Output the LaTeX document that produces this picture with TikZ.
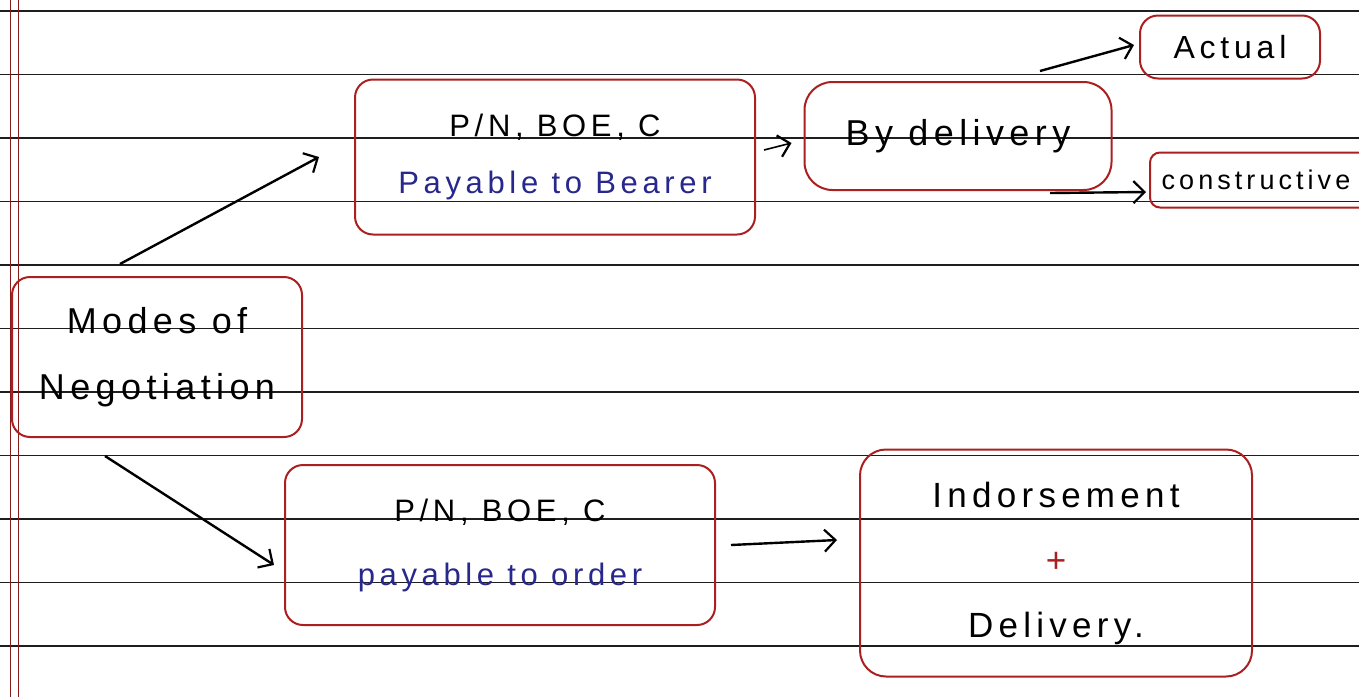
\documentclass[tikz,border=0pt]{standalone}
\usepackage{fontspec}
\setmainfont{Liberation Sans}[LetterSpace=15]
\usetikzlibrary{arrows.meta}
\definecolor{boxred}{RGB}{170,32,32}
\definecolor{inkblue}{RGB}{40,40,140}
\definecolor{ruled}{RGB}{30,30,30}
\tikzset{
  box/.style={draw=boxred, line width=2pt, rounded corners=18pt, align=center, inner sep=0pt},
  arr/.style={draw=black, line width=2.4pt, -{Straight Barb[length=11pt,width=22pt,line width=2.2pt]}},
  ruleline/.style={draw=ruled, line width=1.4pt},
  marginline/.style={draw=boxred!80!black, line width=0.8pt}
}
\begin{document}
\begin{tikzpicture}[x=1pt,y=-1pt]
\useasboundingbox (0,0) rectangle (1359,697);
\fill[white] (0,0) rectangle (1359,697);
% ruled paper
\foreach \k in {0,...,10} {
  \draw[ruleline] (0,{11+63.5*\k}) -- (1359,{11+63.5*\k});
}
\draw[marginline] (10,0) -- (10,697);
\draw[marginline] (18,0) -- (18,697);

% boxes
\node[box, minimum width=290pt, minimum height=160pt, font=\fontsize{36}{66}\selectfont] (modes) at (157,357) {Modes of\\Negotiation};
\node[box, minimum width=400pt, minimum height=155pt, font=\fontsize{31}{57}\selectfont] (toppn) at (555,157) {P/N, BOE, C\\\textcolor{inkblue}{Payable to Bearer}};
\node[box, minimum width=307pt, minimum height=108pt, rounded corners=28pt, font=\fontsize{36}{40}\selectfont] (bydel) at (958,136) {By delivery};
\node[box, minimum width=180pt, minimum height=63pt, font=\fontsize{32}{34}\selectfont] (actual) at (1230,47) {Actual};
\node[box, minimum width=220pt, minimum height=55pt, rounded corners=10pt, font=\fontsize{27}{30}\selectfont] (constr) at (1260,180) {constructive\hspace*{8pt}};
\node[box, minimum width=430pt, minimum height=160pt, font=\fontsize{31}{64}\selectfont] (botpn) at (500,545) {P/N, BOE, C\\\textcolor{inkblue}{payable to order}};
\node[box, minimum width=392pt, minimum height=227pt, rounded corners=26pt, font=\fontsize{35}{65}\selectfont] (indors) at (1056,563) {Indorsement\\\textcolor{boxred}{+}\\Delivery.};

% connectors
\draw[arr] ([xshift=-37pt,yshift=12pt]modes.north) -- ([xshift=-35pt]toppn.west);
\draw[arr] ([xshift=-52pt,yshift=-18pt]modes.south) -- ([xshift=-10pt,yshift=-20pt]botpn.west);
\draw[arr, line width=1.6pt] ([xshift=8pt,yshift=7pt]toppn.east) -- ([xshift=-12pt,yshift=-7pt]bydel.west);
\draw[arr] ([xshift=82pt,yshift=10pt]bydel.north) -- ([xshift=-5pt,yshift=2pt]actual.west);
\draw[arr] ([xshift=92pt,yshift=-2pt]bydel.south) -- ([xshift=-3pt,yshift=-12pt]constr.west);
\draw[arr] ([xshift=15pt]botpn.east) -- ([xshift=-22pt,yshift=23pt]indors.west);
\end{tikzpicture}
\end{document}
